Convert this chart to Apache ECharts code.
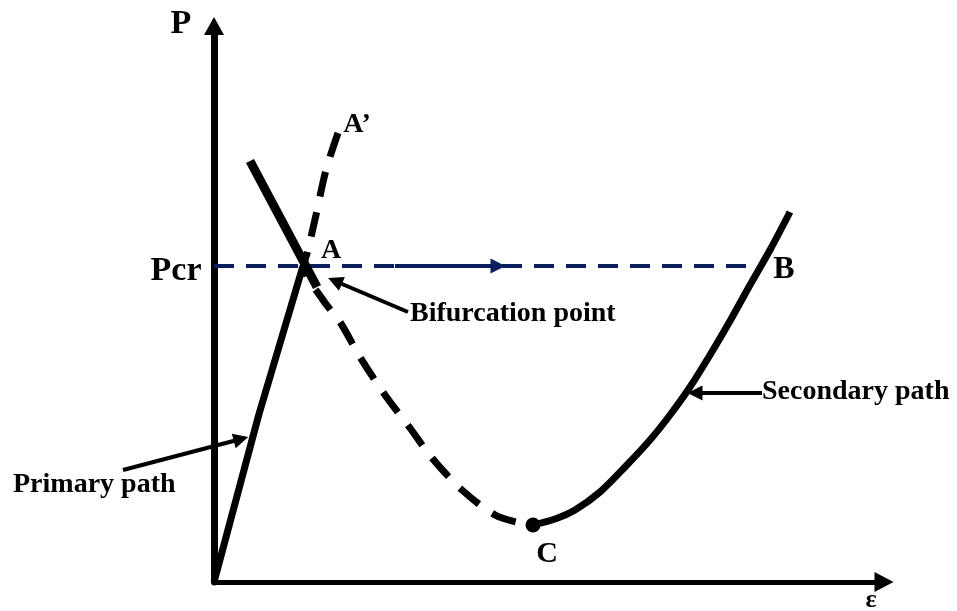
<!DOCTYPE html>
<html>
<head>
<meta charset="utf-8">
<title>Bifurcation diagram</title>
<script src="https://cdn.jsdelivr.net/npm/echarts@6/dist/echarts.min.js"></script>
<style>
  html, body { margin: 0; padding: 0; background: #fff; }
  #main { width: 957px; height: 611px; }
</style>
</head>
<body>
<div id="main"></div>
<script>
// curve points in (ε, P) units
const primaryPath = [[0, 0], [45, 168], [89, 316]]
const crossLine = [[36, 421], [103, 295]]
const unstablePath = [
  [124, 449], [112, 412], [102, 367], [94, 332], [90, 316],
  [109, 282], [126, 260], [146, 225], [171, 187], [196, 154],
  [218, 124], [248, 92], [281, 67], [306, 59], [319, 57]
]
const secondaryPath = [
  [319, 57], [341, 63], [361, 72], [386, 90], [411, 115],
  [436, 142], [456, 167], [476, 195], [496, 227], [516, 261],
  [536, 297], [556, 332], [576, 370]
]
const pcrLevel = [[0, 316], [548, 316]]
const pcrArrow = [[181, 316], [284, 316]]
const pointC = [[319, 57]]

// annotation arrows: from text to target
const pointers = [
  [[-91, 112], [27, 143]],
  [[194, 270], [121, 301]],
  [[548, 189], [481, 189]]
]

// letters on the figure
const letters = [
  ['P', -33, 558],
  ['Pcr', -38, 311],
  ['A', 117, 331],
  ['A\u2019', 143, 457],
  ['B', 570, 312],
  ['C', 333, 28],
  ['\u03b5', 657, -18]
]
// notes, left edge + middle
const notes = [
  ['Bifurcation point', 196, 268],
  ['Primary path', -201, 97],
  ['Secondary path', 548, 190]
]

const letterSize = { 'P': 34, 'Pcr': 34, 'A': 28, 'A\u2019': 28, 'B': 32, 'C': 30, '\u03b5': 26 }
const font = 'Liberation Serif'

const chart = echarts.init(document.getElementById('main'))

const blackLine = (data, width, type) => ({
  type: 'line',
  data: data,
  showSymbol: false,
  symbol: 'none',
  clip: false,
  silent: true,
  lineStyle: { color: '#000', width: width, type: type || 'solid' }
})

const option = {
  animation: false,
  backgroundColor: '#fff',
  grid: { left: 214, right: 73, top: 26, bottom: 29 },
  xAxis: {
    type: 'value',
    min: 0,
    max: 670,
    axisLine: {
      onZero: false,
      symbol: ['none', 'triangle'],
      symbolSize: [20, 19],
      lineStyle: { color: '#000', width: 5 }
    },
    axisTick: { show: false },
    axisLabel: { show: false },
    splitLine: { show: false }
  },
  yAxis: {
    type: 'value',
    min: 0,
    max: 556,
    axisLine: {
      show: true,
      onZero: false,
      symbol: ['none', 'triangle'],
      symbolSize: [20, 18],
      lineStyle: { color: '#000', width: 7 }
    },
    axisTick: { show: false },
    axisLabel: { show: false },
    splitLine: { show: false }
  },
  series: [
    {
      type: 'line',
      data: pcrLevel,
      symbol: 'none',
      clip: false,
      silent: true,
      lineStyle: { color: '#0b1f5e', width: 4, type: [20, 12] }
    },
    {
      type: 'lines',
      coordinateSystem: 'cartesian2d',
      clip: false,
      silent: true,
      symbol: ['none', 'triangle'],
      symbolSize: 15,
      lineStyle: { color: '#0b1f5e', width: 4, opacity: 1 },
      data: [{ coords: pcrArrow }]
    },
    blackLine(primaryPath, 7),
    blackLine(crossLine, 9),
    Object.assign(blackLine(unstablePath, 7, [25, 16]), { smooth: 0.3 }),
    Object.assign(blackLine(secondaryPath, 7), { smooth: 0.3 }),
    {
      type: 'scatter',
      data: pointC,
      symbolSize: 15,
      silent: true,
      itemStyle: { color: '#000', opacity: 1 }
    },
    {
      type: 'lines',
      coordinateSystem: 'cartesian2d',
      clip: false,
      silent: true,
      symbol: ['none', 'triangle'],
      symbolSize: 15,
      lineStyle: { color: '#000', width: 4, opacity: 1 },
      data: pointers.map(p => ({ coords: p }))
    },
    {
      type: 'scatter',
      clip: false,
      silent: true,
      symbolSize: 0,
      itemStyle: { opacity: 1 },
      data: letters.map(d => ({
        name: d[0],
        value: [d[1], d[2]],
        label: { fontSize: letterSize[d[0]] }
      })),
      label: {
        show: true,
        position: 'inside',
        formatter: '{b}',
        color: '#000',
        fontFamily: font,
        fontWeight: 'bold'
      }
    },
    {
      type: 'scatter',
      clip: false,
      silent: true,
      symbolSize: 0,
      itemStyle: { opacity: 1 },
      data: notes.map(d => ({ name: d[0], value: [d[1], d[2]] })),
      label: {
        show: true,
        position: 'right',
        distance: 0,
        formatter: '{b}',
        color: '#000',
        fontFamily: font,
        fontWeight: 'bold',
        fontSize: 28
      }
    }
  ]
}

chart.setOption(option)
</script>
</body>
</html>
